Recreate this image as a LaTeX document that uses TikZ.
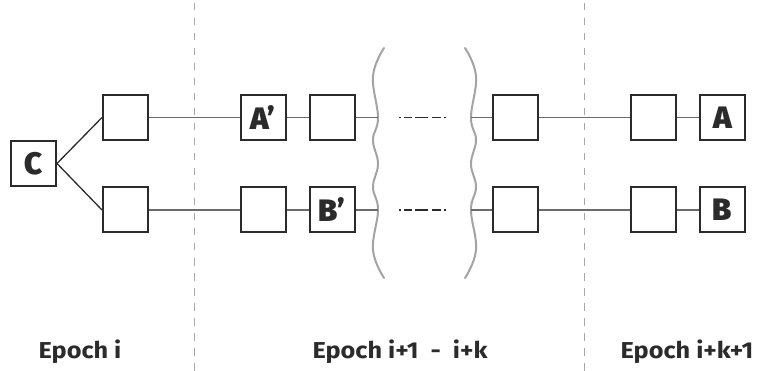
\documentclass[tikz,border=0pt]{standalone}
\usepackage{fontspec}
\setmainfont{Fira Sans}
\newfontfamily\heavyfont{Fira Sans Black}
\newfontfamily\labelfont{Fira Sans}[FakeStretch=1.1]
\definecolor{ink}{HTML}{2B2B2B}
\definecolor{wire}{HTML}{6A6A6A}
\definecolor{sep}{HTML}{A8A8A8}
\definecolor{wavy}{HTML}{A3A3A3}
\tikzset{
  blk/.style={draw=ink, line width=2pt, minimum size=45pt, inner sep=0pt, fill=white,
    text=ink, font=\fontsize{31}{31}\selectfont\heavyfont},
  wire/.style={draw=wire, line width=1.3pt},
  sepline/.style={draw=sep, line width=1pt, dash pattern=on 7.5pt off 7.5pt},
  wavestyle/.style={draw=wavy, line width=2pt, line cap=round},
  gapmark/.style={draw=ink, line width=1.6pt,
    dash pattern=on 2pt off 3pt on 8pt off 3pt on 13pt off 4pt on 9pt off 3pt on 2pt off 10pt},
  epochlabel/.style={text=ink, font=\fontsize{23}{23}\selectfont\labelfont\bfseries, anchor=base, inner sep=0pt}
}
\begin{document}
\begin{tikzpicture}[x=1pt,y=-1pt]
\useasboundingbox (0,0) rectangle (757,371);

% epoch separators
\draw[sepline] (194,3) -- (194,371);
\draw[sepline] (584,3) -- (584,371);

% wavy breaks around the elided epochs
\draw[wavestyle] plot[smooth, tension=0.7] coordinates {(384,48) (373,76) (378,117.5) (373,140) (378,163.75) (373,187) (378,210) (373,250) (384,278)};
\draw[wavestyle] plot[smooth, tension=0.7] coordinates {(465,48) (476,76) (471,117.5) (476,140) (471,163.75) (476,187) (471,210) (476,250) (465,278)};
\coordinate (wlt) at (378,117.5);
\coordinate (wlb) at (378,210);
\coordinate (wrt) at (471,117.5);
\coordinate (wrb) at (471,210);
\coordinate (gt1) at (399,117.5);
\coordinate (gt2) at (447,117.5);
\coordinate (gb1) at (399,210);
\coordinate (gb2) at (447,210);

% blocks
\node[blk] (c)  at (33.5,163.5) {C};
\node[blk] (t1) at (125.5,117.5) {};
\node[blk] (b1) at (125.5,210) {};
\node[blk] (t2) at (263,117.5) {A’};
\node[blk] (b2) at (263,210) {};
\node[blk] (t3) at (332,117.5) {};
\node[blk] (b3) at (332,210) {B’};
\node[blk] (t4) at (515.5,117.5) {};
\node[blk] (b4) at (515.5,210) {};
\node[blk] (t5) at (653.5,117.5) {};
\node[blk] (b5) at (653.5,210) {};
\node[blk] (t6) at (722.5,117.5) {A};
\node[blk] (b6) at (722.5,210) {B};

% fork
\draw[ink, line width=1.3pt] (c.east) -- (t1.west);
\draw[ink, line width=1.3pt] (c.east) -- (b1.west);

% chains
\draw[wire] (t1) -- (t2);
\draw[wire] (t2) -- (t3);
\draw[wire] (t3.east) -- (wlt);
\draw[wire] (wrt) -- (t4.west);
\draw[wire] (t4) -- (t5);
\draw[wire] (t5) -- (t6);
\draw[wire] (b1) -- (b2);
\draw[wire] (b2) -- (b3);
\draw[wire] (b3.east) -- (wlb);
\draw[wire] (wrb) -- (b4.west);
\draw[wire] (b4) -- (b5);
\draw[wire] (b5) -- (b6);

% elided blocks
\draw[gapmark] (gt1) -- (gt2);
\draw[gapmark] (gb1) -- (gb2);

% epoch labels
\node[epochlabel] (l1) at (80,358) {Epoch i};
\node[epochlabel] (l2) at (400,358) {Epoch i+1\ \ -\ \ i+k};
\node[epochlabel] (l3) at (687,358) {Epoch i+k+1};
\end{tikzpicture}
\end{document}
